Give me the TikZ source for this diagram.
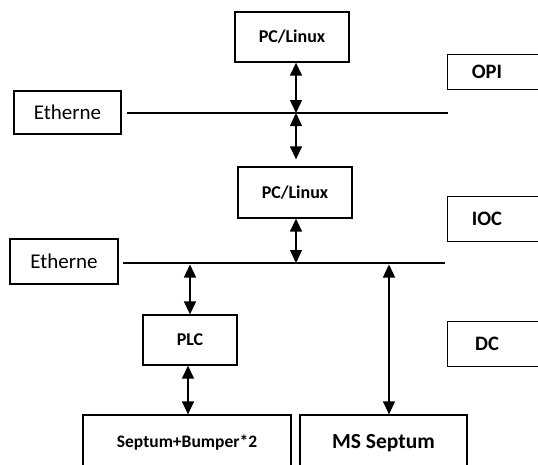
\documentclass[tikz,border=0pt]{standalone}
\usepackage{fontspec}
\setmainfont{Carlito}
\usetikzlibrary{arrows.meta}
\tikzset{
  hostbox/.style={draw,line width=1.3pt,inner sep=0pt,font=\bfseries\fontsize{18}{20}\selectfont},
  netbox/.style={draw,line width=1.3pt,inner sep=0pt,font=\fontsize{21}{24}\selectfont},
  layerlabel/.style={inner sep=0pt,minimum width=78pt,font=\bfseries\fontsize{20.5}{24}\selectfont},
  bus/.style={line width=1.2pt},
  link/.style={line width=1.4pt,{Triangle[width=12pt,length=13pt]}-{Triangle[width=12pt,length=13pt]}}
}
\begin{document}
\begin{tikzpicture}[x=1pt,y=-1pt]
\clip (0,0) rectangle (538,464);
% Hosts
\node[hostbox,minimum width=114pt,minimum height=50pt] (pctop) at (292,37) {PC/Linux};
\node[hostbox,minimum width=114pt,minimum height=51pt] (pcmid) at (295,192.5) {PC/Linux};
\node[hostbox,minimum width=94pt,minimum height=50pt] (plc) at (190,340) {PLC};
\node[hostbox,font=\bfseries\fontsize{17.5}{20}\selectfont,minimum width=208pt,minimum height=56pt] (bumper) at (187,443) {Septum+Bumper*2};
\node[hostbox,font=\bfseries\fontsize{21.5}{24}\selectfont,minimum width=167pt,minimum height=56pt] (msseptum) at (383.5,443) {MS Septum};
% Networks
\node[netbox,minimum width=107pt,minimum height=43pt] (ethtop) at (67.5,112.5) {Etherne};
\node[netbox,minimum width=108pt,minimum height=45pt] (ethmid) at (64,261.5) {Etherne};
\coordinate (busa) at (127,113);
\coordinate (busb) at (448,113);
\coordinate (busc) at (123,263);
\coordinate (busd) at (445,263);
\draw[bus] (busa) -- (busb);
\draw[bus] (busc) -- (busd);
% Layers
\node[layerlabel,minimum height=34pt] (opi) at (487,72) {OPI};
\node[layerlabel,minimum height=44pt] (ioc) at (487,219) {IOC};
\node[layerlabel,minimum height=44pt] (dc) at (487,344) {DC};
\foreach \n in {opi,ioc,dc}
  \draw[line width=1.3pt] ([xshift=80pt]\n.north east) -| (\n.south west) -- ([xshift=80pt]\n.south east);
% Links
\coordinate (tapa) at (296,113);
\coordinate (tapb) at (296,263);
\coordinate (tapc) at (190,263);
\coordinate (tapd) at (389,263);
\draw[link] (pctop.south -| tapa) -- (tapa);
\draw[link,shorten >=7pt] (tapa) -- (pcmid.north -| tapa);
\draw[link] (pcmid.south -| tapb) -- (tapb);
\draw[link,shorten <=1.5pt] (tapc) -- (plc.north -| tapc);
\draw[link] (plc.south -| 188,0) -- (bumper.north -| 188,0);
\draw[link,shorten <=1.5pt] (tapd) -- (msseptum.north -| tapd);
\end{tikzpicture}
\end{document}
